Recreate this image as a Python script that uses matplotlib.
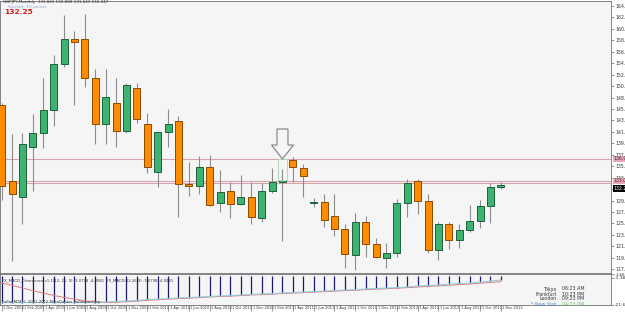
import numpy as np
import matplotlib
matplotlib.use("Agg")
import matplotlib.pyplot as plt
import matplotlib.transforms as mtransforms
from matplotlib.patches import Polygon, Rectangle

W, H = 625, 315
GREEN, ORANGE = "#3CB371", "#FF8C00"
BG, FRAME, WICK = "#F5F5F5", "#707070", "#8C8C8C"
plt.rcParams.update({"font.family": ["DejaVu Sans"], "font.size": 4})

# monthly GBPJPY bars, Dec 2008 .. Dec 2012
opens = [146.70, 133.02, 130.14, 139.14, 141.66, 145.80, 154.08, 158.53, 158.58, 151.56,
         143.28, 147.06, 142.02, 149.76, 143.28, 134.64, 141.84, 143.82, 132.48, 132.12,
         135.54, 129.12, 131.22, 128.88, 130.14, 126.36, 131.28, 132.84, 136.80, 135.36,
         129.06, 129.24, 126.72, 124.44, 119.70, 125.64, 121.68, 119.16, 120.06, 129.06,
         133.02, 129.42, 120.60, 125.28, 122.40, 124.20, 125.82, 128.58, 131.89]
highs = [147.06, 141.48, 141.66, 145.08, 151.56, 155.70, 162.90, 160.02, 163.08, 153.18,
         153.18, 151.56, 150.66, 150.66, 145.26, 141.84, 145.98, 144.72, 136.44, 137.52,
         137.70, 135.00, 132.90, 134.10, 132.90, 132.72, 135.36, 135.18, 137.29, 136.08,
         129.96, 130.68, 130.68, 125.28, 127.26, 126.72, 122.76, 121.86, 129.78, 133.38,
         133.38, 130.68, 125.70, 125.70, 125.28, 128.70, 129.60, 132.72, 132.79]
lows = [129.60, 118.68, 125.28, 131.22, 138.96, 142.92, 153.54, 146.70, 149.99, 139.68,
        139.68, 139.14, 141.66, 143.46, 134.46, 131.94, 139.14, 126.54, 130.32, 130.68,
        128.52, 127.50, 126.36, 128.76, 125.28, 125.70, 130.86, 122.28, 132.90, 130.19,
        128.39, 124.74, 123.12, 117.36, 117.00, 119.34, 119.16, 117.36, 119.34, 126.54,
        127.08, 120.06, 118.80, 120.78, 121.02, 123.90, 124.56, 125.52, 131.53]
closes = [132.12, 130.68, 139.68, 141.66, 145.80, 154.08, 158.58, 158.10, 151.62, 143.28,
          148.14, 142.02, 150.30, 144.18, 135.54, 141.84, 143.28, 132.48, 132.12, 135.54,
          128.70, 131.11, 128.88, 130.14, 126.54, 131.22, 132.84, 133.20, 135.61, 133.92,
          129.15, 126.00, 124.38, 119.88, 125.64, 121.68, 119.40, 120.06, 129.06, 132.66,
          129.47, 120.60, 125.28, 122.40, 124.20, 125.88, 128.58, 131.94, 132.25]
date_labels = ["1 Dec 2008", "1 Feb 2009", "1 Apr 2009", "1 Jun 2009", "1 Aug 2009",
               "1 Oct 2009", "1 Dec 2009", "1 Feb 2010", "1 Apr 2010", "1 Jun 2010",
               "1 Aug 2010", "1 Oct 2010", "1 Dec 2010", "1 Feb 2011", "1 Apr 2011",
               "1 Jun 2011", "1 Aug 2011", "1 Oct 2011", "1 Dec 2011", "1 Feb 2012",
               "1 Apr 2012", "1 Jun 2012", "1 Aug 2012", "1 Oct 2012", "1 Dec 2012"]
price_ticks = [164.52, 162.46, 160.40, 158.34, 156.28, 154.22, 152.16, 150.10, 148.04,
               145.98, 143.92, 141.86, 139.80, 137.74, 135.68, 133.62, 131.56, 129.50,
               127.44, 125.38, 123.32, 121.26, 119.20, 117.14]
level_lines = [136.98, 133.02, 132.61]
last_price = 132.247
marked_bar = 27

# FX_MACD_Divergence panel
macd = [-19.8, -19.8, -19.8, -19.8, -19.8, -19.8, -19.8, -19.8, -19.8, -19.8,
        -19.4, -19.0, -18.7, -18.3, -17.6, -17.2, -16.8, -16.4, -16.1, -15.7,
        -15.3, -14.9, -14.6, -14.2, -13.8, -13.4, -13.1, -12.7, -12.3, -12.0,
        -11.6, -11.2, -10.8, -10.5, -10.1, -9.7, -9.3, -9.0, -8.6, -8.2,
        -7.5, -7.1, -6.7, -6.0, -5.6, -5.2, -4.5, -3.7, -3.0]
signal = [-5.2, -7.0, -9.0, -11.0, -12.8, -14.5, -16.0, -17.3, -18.5, -19.4,
          -19.8, -19.6, -19.2, -18.8, -18.2, -17.7, -17.3, -16.9, -16.5, -16.1,
          -15.7, -15.3, -15.0, -14.6, -14.2, -13.9, -13.5, -13.1, -12.8, -12.4,
          -12.0, -11.7, -11.3, -10.9, -10.6, -10.2, -9.8, -9.5, -9.1, -8.7,
          -8.2, -7.8, -7.4, -6.9, -6.4, -6.0, -5.4, -4.8, -4.2]
ind_ticks = [1.4623, -1.3858, -21.653]
clock_cities = ["Tokyo", "Frankfurt", "London", "* New York"]
clock_times = ["06:23 AM", "10:23 PM", "09:23 PM", "04:23 PM"]

fig = plt.figure(figsize=(W / 100, H / 100), dpi=100, facecolor="white")

def px_axes(x0, y0, x1, y1):
    return fig.add_axes([x0 / W, 1 - y1 / H, (x1 - x0) / W, (y1 - y0) / H])

def ftext(x, y, s, **kw):
    fig.text(x / W, 1 - y / H, s, **kw)

x = np.arange(len(opens))
o, h, l, c = map(np.array, (opens, highs, lows, closes))
up = c >= o

ax = px_axes(0, 1, 611, 273)
ax.set_facecolor(BG)
ax.set_xlim(-0.163, 58.59)
ax.set_ylim(116.46, 165.42)
for sp in ax.spines.values():
    sp.set_color(FRAME); sp.set_linewidth(0.6)
ax.set_xticks([])
ax.yaxis.tick_right()
ax.set_yticks(price_ticks)
ax.set_yticklabels([f"{v:.3f}" for v in price_ticks], fontsize=3.3, color="#333333")
ax.tick_params(axis="y", length=2, width=0.5, pad=1, color=FRAME)

for lv in level_lines:
    ax.axhline(lv, color="#D9A3AE", lw=0.8, zorder=1)
ytr = mtransforms.blended_transform_factory(ax.transAxes, ax.transData)
for lv in level_lines[:2]:
    ax.text(1.004, lv, f"{lv:.3f}", transform=ytr, fontsize=3.3, va="center", ha="left",
            color="#333333", clip_on=False, zorder=6,
            bbox=dict(boxstyle="square,pad=0.15", fc="#E8A8B8", ec="none"))
ax.text(1.004, last_price - 0.55, f"{last_price:.3f}", transform=ytr, fontsize=3.3,
        va="center", ha="left", color="white", clip_on=False, zorder=6,
        bbox=dict(boxstyle="square,pad=0.15", fc="black", ec="none"))

ax.vlines(x, l, h, color=WICK, lw=0.8, zorder=2)
ax.bar(x[up], (c - o)[up], bottom=o[up], width=0.68, color=GREEN,
       edgecolor="#1F5F3A", lw=0.7, zorder=3)
ax.bar(x[~up], (c - o)[~up], bottom=o[~up], width=0.68, color=ORANGE,
       edgecolor="#8A4A00", lw=0.7, zorder=3)

# marked bar: box up to the resistance line and an outlined arrow
ax.add_patch(Rectangle((marked_bar - 0.4, closes[marked_bar]), 0.8,
                       level_lines[0] - closes[marked_bar], fill=False,
                       ec="#A8DDB8", lw=0.7, zorder=4))
dxp = (58.59 + 0.163) / 611
dyp = (165.42 - 116.46) / 272
arrow_px = [(0, 0), (-11, 14), (-5.5, 14), (-5.5, 30), (5.5, 30), (5.5, 14), (11, 14)]
tip = (marked_bar, level_lines[0])
ax.add_patch(Polygon([(tip[0] + px * dxp, tip[1] + py * dyp) for px, py in arrow_px],
                     closed=True, fc=BG, ec="#808080", lw=0.8, zorder=5))

# indicator panel
ax2 = px_axes(0, 274, 611, 305)
ax2.set_facecolor(BG)
ax2.set_xlim(-0.163, 58.59)
ax2.set_ylim(-21.653, 1.5)
for sp in ax2.spines.values():
    sp.set_color(FRAME); sp.set_linewidth(0.6)
ax2.vlines(x, 0, macd, color="#1C1C6E", lw=0.9, zorder=2)
ax2.plot(x, signal, color="#E07B7B", lw=0.7, zorder=3)
ax2.plot(x, macd, color="#8CCFE0", lw=0.7, zorder=3)
ax2.yaxis.tick_right()
ax2.set_yticks(ind_ticks)
ax2.set_yticklabels([f"{v:g}" for v in ind_ticks], fontsize=3.2, color="#333333")
ax2.tick_params(axis="y", length=2, width=0.5, pad=1, color=FRAME)
ax2.set_xticks(x[::2])
ax2.set_xticklabels(date_labels, fontsize=2.6, color="#333333")
ax2.tick_params(axis="x", length=4, width=0.5, pad=-3.6, color=FRAME)
offset = mtransforms.ScaledTranslation(1.5 / 100, 0, fig.dpi_scale_trans)
for t in ax2.get_xticklabels():
    t.set_ha("left")
    t.set_transform(t.get_transform() + offset)

ax2.text(0.003, 0.78, "FX_MACD_Divergence v1.1(12, 26, 9) -3.0798 -4.0081  FX_MACD(12,26,9) -3.0798 -4.0081",
         transform=ax2.transAxes, fontsize=2.7, color="#333333", va="center")
ax2.text(0.003, 0.1, "FxPro MT4 \u00a9 2001-2012 MetaQuotes Software Corp.",
         transform=ax2.transAxes, fontsize=2.7, color="#333333", va="center")

for k, (city, tm) in enumerate(zip(clock_cities, clock_times)):
    ny = city.endswith("York")
    ftext(557, 289 + 5 * k, city, fontsize=3.4, ha="right", va="center",
          color="#5B8BD8" if ny else "#333333")
    ftext(562, 289 + 5 * k, tm, fontsize=3.4, ha="left", va="center",
          color="#6CC46C" if ny else "#333333")

ftext(3, 2.4, "GBPJPY,Monthly  131.841 132.888 131.543 132.247", fontsize=3.0,
      color="#333333", va="center")
ftext(8, 6.6, "Spread: 10 points", fontsize=3.2, color="#8FA8D0", va="center")
ftext(4, 11.8, "132.25", fontsize=5.4, color="#CC1F1F", fontweight="bold", va="center")

fig.savefig("out.png", dpi=100, facecolor="white")
